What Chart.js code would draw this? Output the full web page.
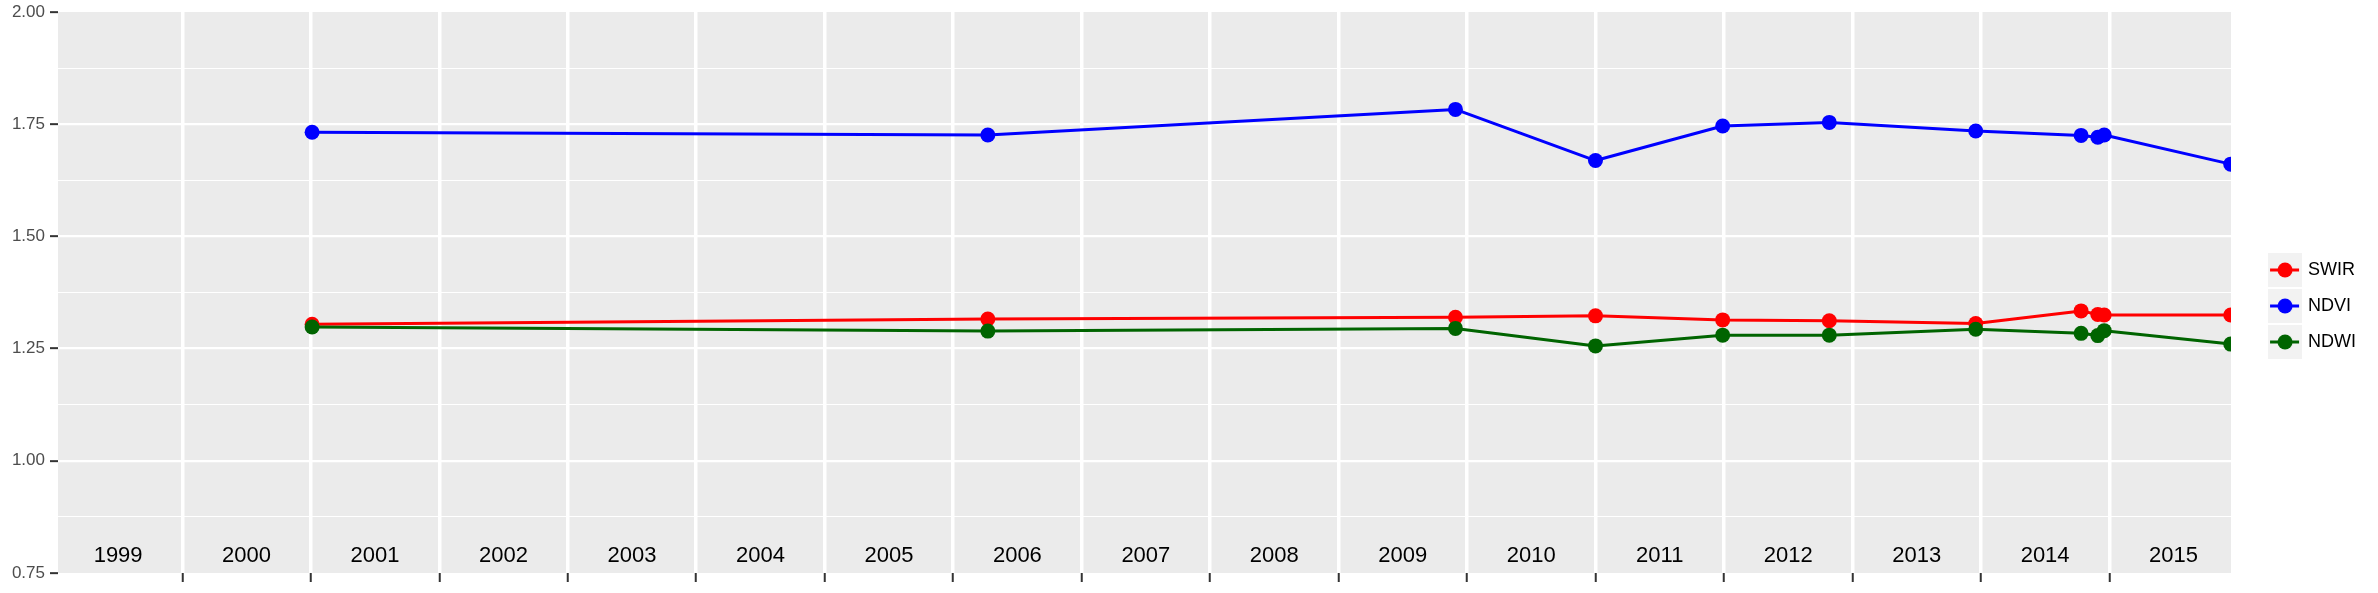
<!DOCTYPE html>
<html>
<head>
<meta charset="utf-8">
<script src="https://cdn.jsdelivr.net/npm/chart.js@4/dist/chart.umd.min.js"></script>
<style>
  html, body { margin: 0; padding: 0; background: #ffffff; }
  #wrap { width: 2378px; height: 593px; }
</style>
</head>
<body>
<div id="wrap"><canvas id="grafico" width="2378" height="593"></canvas></div>
<script>
// datos (fecha en años decimales)
const fechas = [2001.01, 2006.27, 2009.91, 2011.00, 2011.99, 2012.82, 2013.96, 2014.78, 2014.91, 2014.96, 2015.945];
const swir = [1.304, 1.316, 1.320, 1.323, 1.314, 1.312, 1.306, 1.334, 1.326, 1.325, 1.325];
const ndvi = [1.732, 1.726, 1.783, 1.669, 1.746, 1.754, 1.735, 1.725, 1.721, 1.726, 1.661];
const ndwi = [1.298, 1.289, 1.295, 1.256, 1.280, 1.280, 1.293, 1.284, 1.279, 1.290, 1.260];

const series = ["SWIR", "NDVI", "NDWI"];
const colores = ["#FF0000", "#0000FF", "#006400"];

const anios = ["1999", "2000", "2001", "2002", "2003", "2004", "2005", "2006", "2007",
               "2008", "2009", "2010", "2011", "2012", "2013", "2014", "2015"];
const cortesAnio = [2000, 2001, 2002, 2003, 2004, 2005, 2006, 2007, 2008,
                    2009, 2010, 2011, 2012, 2013, 2014, 2015];
const yTicks = [0.75, 1.00, 1.25, 1.50, 1.75, 2.00];
const yMenores = [0.875, 1.125, 1.375, 1.625, 1.875];

const xMin = 1999.032, xMax = 2015.947;
const yMin = 0.75, yMax = 2.00;

const fuente = "'Liberation Sans', Arial, sans-serif";

// fondo gris del panel
const fondoPanel = {
    id: "fondoPanel",
    beforeDraw(chart) {
        const a = chart.chartArea;
        const ctx = chart.ctx;
        ctx.save();
        ctx.fillStyle = "#EBEBEB";
        ctx.fillRect(a.left, a.top, a.right - a.left, a.bottom - a.top);
        ctx.restore();
    }
};

// llave de la leyenda (cuadro gris + linea + punto)
function llave(color) {
    const c = document.createElement("canvas");
    c.width = 56; c.height = 34;
    const g = c.getContext("2d");
    g.fillStyle = "#F2F2F2";
    g.fillRect(22, 0, 34, 34);
    g.strokeStyle = color;
    g.lineWidth = 3;
    g.beginPath(); g.moveTo(24, 17); g.lineTo(53, 17); g.stroke();
    g.fillStyle = color;
    g.beginPath(); g.arc(39, 17, 7.5, 0, Math.PI * 2); g.fill();
    return c;
}

function puntos(valores) {
    return fechas.map((f, i) => ({ x: f, y: valores[i] }));
}

const valores = [swir, ndvi, ndwi];
const datasets = series.map((nombre, i) => ({
    label: nombre,
    data: puntos(valores[i]),
    borderColor: colores[i],
    backgroundColor: colores[i],
    borderWidth: 3,
    pointRadius: 7.5,
    pointBorderWidth: 0,
    pointHoverRadius: 7.5,
    borderJoinStyle: "round",
    tension: 0,
    clip: 0,
    order: 3 - i // NDWI encima
}));

const ctx = document.getElementById("grafico").getContext("2d");
const chart = new Chart(ctx, {
    type: "line",
    data: { datasets: datasets },
    plugins: [fondoPanel],
    options: {
        responsive: false,
        animation: false,
        events: [],
        layout: { padding: { left: 0, top: 12, right: 12, bottom: 0 } },
        scales: {
            x: {
                type: "linear",
                position: "bottom",
                min: xMin,
                max: xMax,
                afterBuildTicks: (a) => { a.ticks = cortesAnio.map(v => ({ value: v })); },
                afterFit: (a) => { a.height = 20; },
                ticks: { display: false },
                border: { display: false },
                grid: {
                    color: "#FFFFFF",
                    lineWidth: 3.5,
                    tickColor: "#333333",
                    tickWidth: 2,
                    tickLength: 9
                }
            },
            // etiquetas de año dentro del panel
            anios: {
                type: "linear",
                axis: "x",
                position: { y: yMin },
                min: xMin,
                max: xMax,
                afterBuildTicks: (a) => { a.ticks = anios.map(t => ({ value: Number(t) + 0.5 })); },
                border: { display: false },
                grid: { display: false },
                ticks: {
                    autoSkip: false,
                    maxRotation: 0,
                    padding: -38,
                    color: "#000000",
                    font: { family: fuente, size: 22 },
                    callback: (v, i) => anios[i]
                }
            },
            y: {
                type: "linear",
                min: yMin,
                max: yMax,
                afterBuildTicks: (a) => {
                    a.ticks = yTicks.concat(yMenores).sort((p, q) => p - q).map(v => ({ value: v }));
                },
                afterFit: (a) => { a.width = 58; },
                border: { display: false },
                ticks: {
                    padding: 5,
                    color: "#4D4D4D",
                    font: { family: fuente, size: 17, lineHeight: 0.8 },
                    callback: (v) => yTicks.includes(v) ? v.toFixed(2) : ""
                },
                grid: {
                    color: (c) => (c.tick && (c.tick.value === yMin || c.tick.value === yMax)) ? "rgba(0,0,0,0)" : "#FFFFFF",
                    lineWidth: (c) => (c.tick && yTicks.includes(c.tick.value)) ? 2.3 : 1.1,
                    tickColor: (c) => (c.tick && yTicks.includes(c.tick.value)) ? "#333333" : "rgba(0,0,0,0)",
                    tickWidth: 2,
                    tickLength: 8
                }
            }
        },
        plugins: {
            tooltip: { enabled: false },
            legend: {
                position: "right",
                reverse: true,
                title: { display: true, text: "", padding: 0, font: { size: 7, lineHeight: 1 } },
                labels: {
                    usePointStyle: true,
                    pointStyleWidth: 50,
                    padding: 18,
                    color: "#000000",
                    font: { family: fuente, size: 18 },
                    generateLabels: (chart) => {
                        const items = Chart.defaults.plugins.legend.labels.generateLabels(chart);
                        items.forEach(it => {
                            it.pointStyle = llave(colores[it.datasetIndex]);
                            it.fontColor = "#000000";
                        });
                        return items;
                    }
                }
            }
        }
    }
});
</script>
</body>
</html>
